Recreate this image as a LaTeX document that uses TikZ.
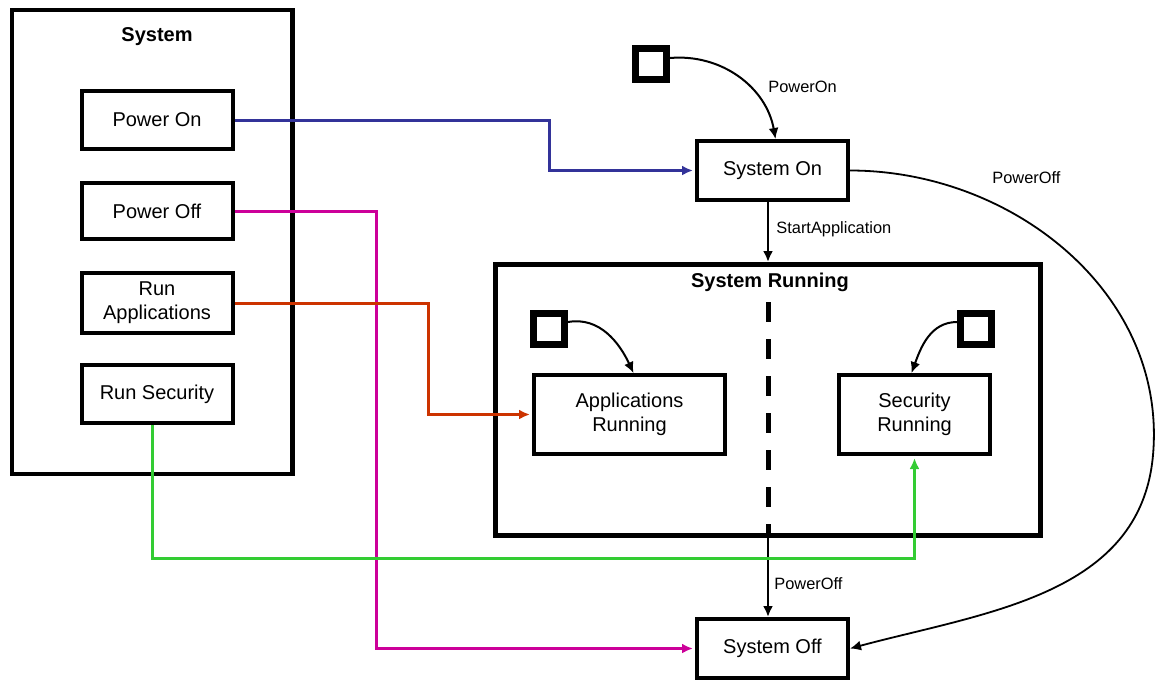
\documentclass[tikz,border=0pt]{standalone}
\usepackage{fontspec}
\setmainfont{Liberation Sans}
\usetikzlibrary{arrows.meta,calc}
\definecolor{onc}{RGB}{51,51,153}
\definecolor{offc}{RGB}{204,0,153}
\definecolor{appc}{RGB}{204,51,0}
\definecolor{secc}{RGB}{51,204,51}

\begin{document}
\begin{tikzpicture}[x=0.5pt,y=-0.5pt,font=\fontsize{10}{12}\selectfont,
  >={Latex[length=5.5pt,width=5pt]},
  statebox/.style={draw,line width=2pt,minimum width=75.5pt,minimum height=29.5pt,
    align=center,inner sep=0pt},
  initsq/.style={draw,line width=3.5pt,minimum size=15.5pt,inner sep=0pt},
  titletxt/.style={font=\fontsize{10}{12}\selectfont\bfseries},
  evlabel/.style={font=\fontsize{8.2}{10}\selectfont,anchor=west,inner sep=0pt},
  wire/.style={->,line width=1.5pt,shorten >=1pt}]
\useasboundingbox (0,0) rectangle (1155,682);

%================= left: the System block =================
\node[draw,line width=2.2pt,minimum width=140.3pt,minimum height=232pt] (sys) at (152,242) {};
\node[titletxt] (systitle) at (157,37) {System};

\node[statebox,minimum height=29pt] (pwron) at (157,120) {Power On};
\node[statebox,minimum height=28pt] (pwroff) at (157,211) {Power Off};
\node[statebox,minimum height=30pt] (runapps) at (157,303) {Run\\Applications};
\node[statebox,minimum height=29pt] (runsec) at (157,394) {Run Security};

%================= right: the state machine =================
\node[initsq] (initon) at (651,64) {};
\node[statebox] (syson) at (772.5,170.5) {System On};
\node[statebox] (sysoff) at (772.5,648.5) {System Off};

% --- composite state
\node[draw,line width=2.5pt,minimum width=272.5pt,minimum height=135.5pt] (sysrun) at (768,400) {};
\node[titletxt] (runtitle) at (770,282) {System Running};
\coordinate (dashtop) at (768,302);
\draw[line width=2.5pt,dash pattern=on 10pt off 8.5pt] (dashtop) -- (sysrun.south);

\node[initsq] (initapp) at (549,329) {};
\node[initsq] (initsec) at (976,329) {};
\node[statebox,minimum width=95.5pt,minimum height=39.5pt] (apprun) at (629.5,414.5)
  {Applications\\Running};
\node[statebox,minimum height=39.5pt] (secrun) at (914.5,414.5) {Security\\Running};

% --- transitions
\draw[->,line width=1pt] ([yshift=3pt]initon.east) to[out=5,in=100] ([xshift=1.5pt]syson.north);
\node[evlabel] (lbon) at (768,87) {PowerOn};

\draw[->,line width=1.2pt] (syson.south -| sysrun.north) -- (sysrun.north);
\node[evlabel] (lbstart) at (776,229) {StartApplication};

\draw[->,line width=1pt] ([yshift=3.5pt]initapp.east) to[out=10,in=115] ([xshift=2pt]apprun.north);
\draw[->,line width=1pt] ([yshift=3.5pt]initsec.west) to[out=180,in=70] ([xshift=-1.5pt]secrun.north);

\draw[->,line width=1.2pt] (sysrun.south) -- (sysrun.south |- sysoff.north);
\node[evlabel] (lboff) at (774,584) {PowerOff};

\coordinate (offbend) at (1153,455);
\draw[->,line width=0.9pt] (syson.east) to[out=0,in=85] (offbend) to[out=-95,in=15] (sysoff.east);
\node[evlabel] (lboffb) at (992,178) {PowerOff};

%================= coloured links: button -> state =================
\coordinate (onturn) at (549,150);
\draw[wire,onc] (pwron.east) -| (onturn) |- (syson.west);
\coordinate (offturn) at (376,400);
\draw[wire,offc] (pwroff.east) -| (offturn) |- (sysoff.west);
\coordinate (appturn) at (428,350);
\draw[wire,appc] (runapps.east) -| (appturn) |- (apprun.west);
\coordinate (secturn) at (500,558);
\draw[wire,secc] ([xshift=-2.5pt]runsec.south) |- (secturn) -| (secrun.south);
\end{tikzpicture}
\end{document}
